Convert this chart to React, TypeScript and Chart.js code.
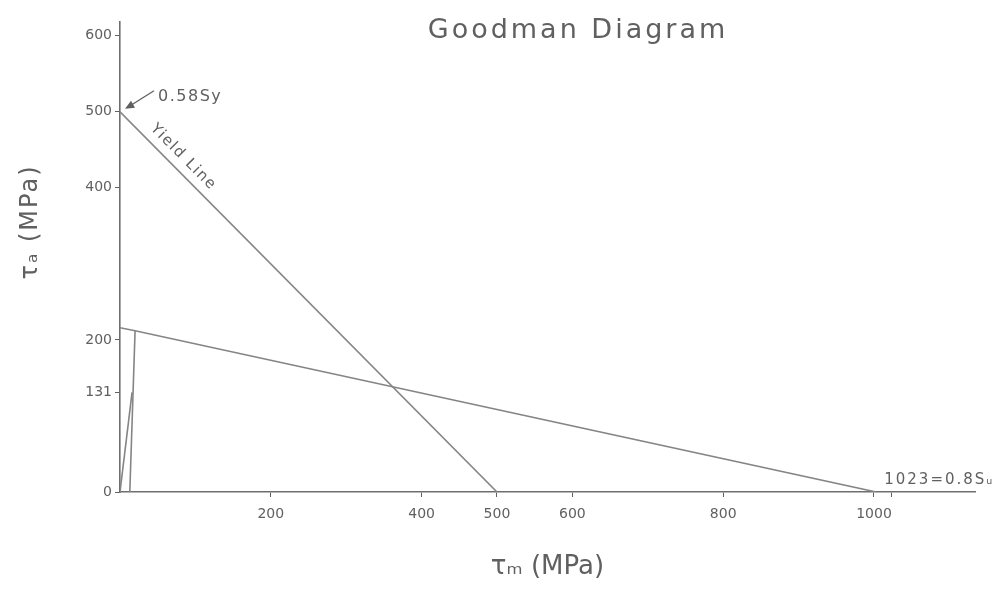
import React, { useEffect, useRef } from "react";
import { Chart, registerables } from "chart.js";

Chart.register(...registerables);

// ---- data ----
const chartTitle = "Goodman Diagram";
const xAxisTitle = "τₘ (MPa)";
const yAxisTitle = "τₐ (MPa)";

const xTickValues = [200, 400, 500, 600, 800, 1000, 1023];
const xTickLabels = ["200", "400", "500", "600", "800", "1000", ""];
const yTickValues = [0, 131, 200, 400, 500, 600];
const yTickLabels = ["0", "131", "200", "400", "500", "600"];
const xMax = 1134;
const yMax = 618;

const yieldLineX = [0, 500];
const yieldLineY = [500, 0];
const goodmanX = [0, 20, 1003];
const goodmanY = [216, 212, 0];
const riserX = [20, 13];
const riserY = [212, 0];
const loadX = [0, 16];
const loadY = [0, 131];

const yieldLabel = "Yield Line";
const shearYieldLabel = "0.58Sy";
const shearYieldValue = 500;
const ultimateLabel = "1023=0.8Sᵤ";
const ultimateValue = 1023;

const toPoints = (xs: number[], ys: number[]) => xs.map((x, i) => ({ x, y: ys[i] }));

const INK = "#606060";
const LINE = "#858585";
const FONT = "'DejaVu Sans', sans-serif";

const annotations = {
  id: "annotations",
  afterDatasetsDraw(chart: any) {
    const { ctx } = chart;
    const xs = chart.scales.x;
    const ys = chart.scales.y;
    ctx.save();
    ctx.fillStyle = INK;
    ctx.strokeStyle = INK;

    // title
    ctx.font = `27px ${FONT}`;
    (ctx as any).letterSpacing = "3px";
    ctx.textAlign = "center";
    ctx.textBaseline = "middle";
    ctx.fillText(chartTitle, 578, 31);

    // y axis title
    ctx.save();
    ctx.translate(31, 222);
    ctx.rotate(-Math.PI / 2);
    ctx.font = `24px ${FONT}`;
    (ctx as any).letterSpacing = "2px";
    ctx.fillText(yAxisTitle, 0, 0);
    ctx.restore();

    // 0.58Sy with arrow
    const ax = xs.getPixelForValue(0);
    const ay = ys.getPixelForValue(shearYieldValue);
    ctx.font = `16px ${FONT}`;
    (ctx as any).letterSpacing = "1.5px";
    ctx.textAlign = "left";
    ctx.fillText(shearYieldLabel, ax + 38, ay - 15);
    ctx.lineWidth = 1.3;
    ctx.beginPath();
    ctx.moveTo(ax + 34, ay - 21);
    ctx.lineTo(ax + 7, ay - 4);
    ctx.stroke();
    ctx.beginPath();
    ctx.moveTo(ax + 5, ay - 3);
    ctx.lineTo(ax + 15, ay - 4);
    ctx.lineTo(ax + 11, ay - 11);
    ctx.closePath();
    ctx.fill();

    // Yield Line label (along the yield line)
    const p0x = xs.getPixelForValue(yieldLineX[0]);
    const p0y = ys.getPixelForValue(yieldLineY[0]);
    const p1x = xs.getPixelForValue(yieldLineX[1]);
    const p1y = ys.getPixelForValue(yieldLineY[1]);
    const ang = Math.atan2(p1y - p0y, p1x - p0x);
    ctx.save();
    ctx.translate(p0x + 54 + 13 * Math.sin(ang), p0y + 54 * Math.tan(ang) - 13 * Math.cos(ang));
    ctx.rotate(ang);
    ctx.font = `15px ${FONT}`;
    (ctx as any).letterSpacing = "1.5px";
    ctx.textAlign = "center";
    ctx.fillText(yieldLabel, 0, 0);
    ctx.restore();

    // 1023 label
    const ux = xs.getPixelForValue(ultimateValue);
    const uy = ys.getPixelForValue(0);
    ctx.font = `15px ${FONT}`;
    (ctx as any).letterSpacing = "2px";
    ctx.textAlign = "center";
    ctx.fillText(ultimateLabel, ux + 48, uy - 12);

    ctx.restore();
  },
};

export default function App() {
  const ref = useRef<HTMLCanvasElement | null>(null);

  useEffect(() => {
    if (!ref.current) return;
    const lineStyle = {
      showLine: true,
      pointRadius: 0,
      borderColor: LINE,
      borderWidth: 1.6,
      fill: false,
      tension: 0,
    };
    const chart = new Chart(ref.current, {
      type: "scatter",
      data: {
        datasets: [
          { label: "Yield line", data: toPoints(yieldLineX, yieldLineY), ...lineStyle },
          { label: "Goodman line", data: toPoints(goodmanX, goodmanY), ...lineStyle },
          { label: "Riser", data: toPoints(riserX, riserY), ...lineStyle },
          { label: "Load line", data: toPoints(loadX, loadY), ...lineStyle },
        ] as any,
      },
      options: {
        animation: false,
        responsive: true,
        maintainAspectRatio: false,
        layout: { padding: { top: 22, right: 26, left: 0, bottom: 0 } },
        plugins: {
          legend: { display: false },
          tooltip: { enabled: false },
          title: { display: false },
        },
        scales: {
          x: {
            type: "linear",
            min: 0,
            max: xMax,
            afterBuildTicks: (s: any) => {
              s.ticks = xTickValues.map((v) => ({ value: v }));
            },
            afterFit: (s: any) => {
              s.height = 98;
            },
            grid: { drawOnChartArea: false, drawTicks: true, tickLength: 5, color: INK },
            border: { color: "#6e6e6e", width: 1.6 },
            ticks: {
              autoSkip: false,
              maxRotation: 0,
              padding: 9,
              color: INK,
              font: { family: FONT, size: 14 },
              callback: (v: any) => {
                const i = xTickValues.indexOf(Number(v));
                return i >= 0 ? xTickLabels[i] : "";
              },
            },
            title: {
              display: true,
              text: xAxisTitle,
              color: INK,
              font: { family: FONT, size: 26 },
              padding: { top: 4, bottom: 7 },
            },
          },
          y: {
            type: "linear",
            min: 0,
            max: yMax,
            afterBuildTicks: (s: any) => {
              s.ticks = yTickValues.map((v) => ({ value: v }));
            },
            afterFit: (s: any) => {
              s.width = 120;
            },
            grid: { drawOnChartArea: false, drawTicks: true, tickLength: 5, color: INK },
            border: { color: "#6e6e6e", width: 1.6 },
            ticks: {
              autoSkip: false,
              padding: 3,
              color: INK,
              font: { family: FONT, size: 14 },
              callback: (v: any) => {
                const i = yTickValues.indexOf(Number(v));
                return i >= 0 ? yTickLabels[i] : "";
              },
            },
          },
        },
      } as any,
      plugins: [annotations],
    });
    return () => chart.destroy();
  }, []);

  return (
    <div style={{ position: "fixed", left: 0, top: 0, width: 1001, height: 590, background: "#fff" }}>
      <canvas ref={ref} />
    </div>
  );
}
